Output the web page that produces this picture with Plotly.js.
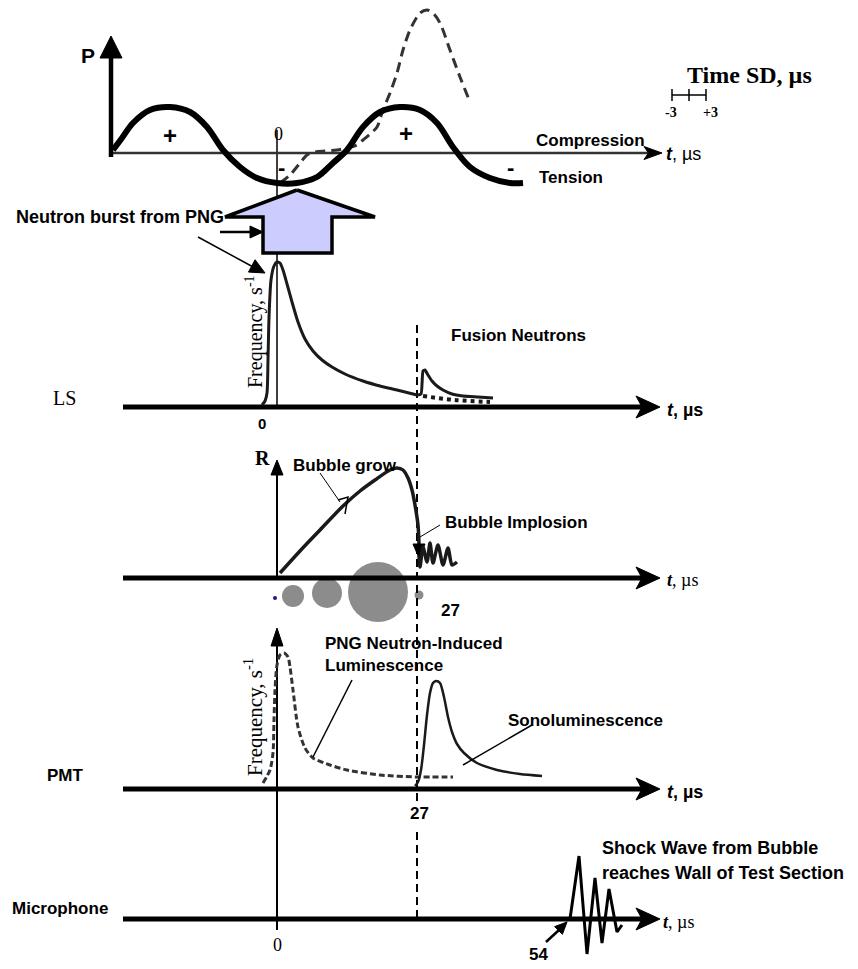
<!DOCTYPE html>
<html><head><meta charset="utf-8">
<script src="https://cdn.plot.ly/plotly-3.0.1.min.js"></script>
<style>html,body{margin:0;padding:0;background:#fff}#chart{width:858px;height:969px}</style>
</head><body><div id="chart"></div>
<script>
// ===== Data (diagram units, x to the right, y downward) =====
// Top panel: acoustic pressure (solid) and bubble pulse (dashed)
const pressureX = [113,122,133,150,170,190,207,223,240,257,277,297,317,333,347,363,380,400,420,437,453,470,490,510,523];
const pressureY = [150,138,123,110,107,112,127,150,167,178,183,183,177,163,150,127,112,107,110,123,147,167,178,183,183];
const pulseX = [280,290,300,307,315,325,337,347,357,363,370,377,383,390,397,403,410,420,427,433,440,450,460,470];
const pulseY = [183,175,163,155,152,151,150,148,145,140,134,127,110,93,73,50,30,13,10,13,23,50,77,102];
// PNG neutron burst arrow outline
const pngArrowX = [297,375,332,332,263,263,225,297];
const pngArrowY = [190,217,217,253,253,217,217,190];
// LS panel
const lsX = [262,265,267,268,269,271,274,277,280,283,287,292,298,305,313,322,332,345,363,380,397,417];
const lsY = [405,401,393,360,318,280,266,262,263,270,284,302,322,339,351,360,367,374,381,386,390,395];
const fusionX = [417,421,423,425,428,432,437,443,452,463,478,493];
const fusionY = [395,394,371,370,375,381,386,390,394,396,397,398];
const lsTailX = [423,455,490];
const lsTailY = [396,400,402];
// Bubble radius panel
const radiusX = [280,300,320,343,360,375,390,397,403,408,412,415,418,419];
const radiusY = [573,551,530,506,491,480,470,468,470,478,490,505,525,544];
const reboundX = [419,420,423,427,430,433,438,443,448,452,457];
const reboundY = [556,567,547,562,543,563,545,565,548,565,562];
const bubbleX = [275,293,327,378,419];
const bubbleY = [598,596,593,592,595];
const bubbleD = [4,22,30,60,9];
// PMT panel
const pngLumX = [263,270,273,274,275,277,280,284,288,290,293,298,305,313,330,347,380,417,453];
const pngLumY = [783,770,753,720,690,665,655,653,657,667,690,727,748,758,765,770,775,777,777];
const sonoX = [415,418,421,424,427,430,433,436,440,444,448,452,457,464,477,497,520,542];
const sonoY = [786,782,770,745,715,693,683,681,683,697,717,732,744,753,763,770,774,776];
// Microphone panel
const shockX = [566,570,579,587,595,602,609,617,622];
const shockY = [920,919,856,954,878,943,889,932,925];
// Time axes
const panelNames = ['LS','Bubble','PMT','Microphone'];
const panelAxisY = [407,578,789,919];
const axisStartX = 123;
const axisTipX = 660;

// ===== helpers =====
const traces = [];
function line(x, y, w, color, opt) {
  opt = opt || {};
  traces.push({type:'scatter', mode:'lines', x:x, y:y, hoverinfo:'skip', showlegend:false,
    line:{width:w, color:color, shape:opt.shape||'linear', smoothing:opt.smoothing||1, dash:opt.dash||'solid'},
    fill:opt.fill||'none', fillcolor:opt.fillcolor});
}
function head(tx, ty, dx, dy, len, hw, notch) {
  const n = Math.hypot(dx, dy), ux = dx/n, uy = dy/n, px = -uy, py = ux;
  const bx = tx-ux*len, by = ty-uy*len, nb = notch ? len*0.75 : len;
  const x = [tx, bx+px*hw, tx-ux*nb, bx-px*hw, tx];
  const y = [ty, by+py*hw, ty-uy*nb, by-py*hw, ty];
  traces.push({type:'scatter', mode:'lines', x:x, y:y, fill:'toself', fillcolor:'#000',
    line:{width:1, color:'#000'}, hoverinfo:'skip', showlegend:false});
}

// bubbles (behind axis)
traces.push({type:'scatter', mode:'markers', x:bubbleX, y:bubbleY, hoverinfo:'skip', showlegend:false,
  marker:{size:bubbleD, color:['#1a1a8a','#8c8c8c','#8c8c8c','#8c8c8c','#8c8c8c'], line:{width:0}, opacity:1}});

// t = 0 reference lines and t = 27 dashed line
line([277,277],[130,407],1.5,'#000');
line([277,277],[640,930],2,'#000');
head(277,628,0,-1,18,6,false);
line([277,277],[578,472],2,'#000');
head(277,460,0,-1,15,6,false);
line([417,417],[325,805],2,'#000',{dash:'8px,5px'});
line([417,417],[832,918],2,'#000',{dash:'8px,5px'});

// top panel axes
line([113,648],[153,153],2.5,'#333');
head(662,153,1,0,18,6.5,true);
line([111,111],[157,55],4.5,'#000');
head(111,36,0,-1,22,11,false);

// panel time axes
panelAxisY.forEach(function(yy){
  line([axisStartX, axisTipX-14],[yy,yy],5,'#000');
  head(axisTipX, yy, 1, 0, 24, 11, true);
});

// PNG arrow
line(pngArrowX, pngArrowY, 3.5, '#000', {fill:'toself', fillcolor:'#ccccff'});

// pressure & bubble pulse
line(pulseX, pulseY, 3, '#333', {shape:'spline', smoothing:0.8, dash:'10px,6px'});
line(pressureX, pressureY, 6, '#000', {shape:'spline', smoothing:1});

// LS
line(lsX, lsY, 3, '#1a1a1a', {shape:'spline', smoothing:0.7});
line(fusionX, fusionY, 3, '#1a1a1a', {shape:'spline', smoothing:0.5});
line(lsTailX, lsTailY, 4, '#1a1a1a', {shape:'spline', dash:'4px,4px'});

// Bubble radius
line(radiusX, radiusY, 3.5, '#1a1a1a', {shape:'spline', smoothing:0.8});
head(419,558,0,1,14,6,false);
line(reboundX, reboundY, 3.5, '#1a1a1a', {shape:'spline', smoothing:0.7});
line([338,348,345],[500,497,514],1.5,'#000');
line([320,340],[473,502],1,'#000');
line([440,420],[525,537],1,'#000');

// PMT
line(pngLumX, pngLumY, 3, '#333', {shape:'spline', smoothing:0.7, dash:'6px,3px'});
line(sonoX, sonoY, 2.5, '#1a1a1a', {shape:'spline', smoothing:0.7});
line([352,313],[680,757],1.5,'#000');
line([532,463],[725,765],1.5,'#000');

// Microphone
line(shockX, shockY, 3, '#000');

// pointer arrows
line([220,252],[232,232],2.5,'#000');
head(263,232,1,0,13,6,false);
line([198,255],[237,268],1.5,'#000');
head(265,273,67,36,15,7,false);
line([546,559],[942,930],2.5,'#000');
head(567,922,1,-1,12,5.5,false);

// error bar for time SD
line([672,706],[95,95],1.5,'#000');
line([672,672],[89,101],1.5,'#000');
line([689,689],[89,101],1.5,'#000');
line([706,706],[89,101],1.5,'#000');

// ===== text =====
const SANS = 'Liberation Sans, Arial, sans-serif';
const SERIF = 'Liberation Serif, Times New Roman, serif';
const ann = [];
function txt(x, y, t, size, fam, opt) {
  opt = opt || {};
  ann.push({xref:'x', yref:'y', x:x, y:y, text:t, showarrow:false, xanchor:opt.xa||'center', yanchor:'middle',
    textangle:opt.angle||0, font:{family:fam, size:size, color:'#000'}});
}
txt(88,55,'<b>P</b>',21,SANS);
txt(170,135,'<b>+</b>',24,SANS);
txt(406,133,'<b>+</b>',24,SANS);
txt(281,167,'<b>-</b>',22,SANS);
txt(510,167,'<b>-</b>',22,SANS);
txt(278,134,'0',18,SERIF);
txt(685,75,'<b>Time SD, µs</b>',24,SERIF,{xa:'left'});
txt(671,112,'<b>-3</b>',14,SERIF);
txt(710,112,'<b>+3</b>',14,SERIF);
txt(590,140,'<b>Compression</b>',17,SANS);
txt(571,177,'<b>Tension</b>',17,SANS);
txt(664,154,'<b><i>t</i></b>, µs',18,SANS,{xa:'left'});
txt(120,217,'<b>Neutron burst from PNG</b>',18,SANS);
txt(64,398,'LS',20,SERIF);
txt(254,332,'Frequency, s<sup>-1</sup>',20,SERIF,{angle:-90});
txt(262,423,'<b>0</b>',15,SANS);
txt(518,335,'<b>Fusion Neutrons</b>',17,SANS);
txt(665,410,'<b><i>t</i>, µs</b>',18,SANS,{xa:'left'});
txt(262,458,'<b>R</b>',20,SERIF);
txt(345,465,'<b>Bubble grow</b>',17,SANS);
txt(516,522,'<b>Bubble Implosion</b>',17,SANS);
txt(450,610,'<b>27</b>',17,SANS);
txt(665,580,'<b><i>t</i></b>, µs',18,SERIF,{xa:'left'});
txt(323,643,'<b>PNG Neutron-Induced</b>',17,SANS,{xa:'left'});
txt(323,665,'<b>Luminescence</b>',17,SANS,{xa:'left'});
txt(253,717,'Frequency, s<sup>-1</sup>',21,SERIF,{angle:-90});
txt(585,720,'<b>Sonoluminescence</b>',17,SANS);
txt(65,775,'<b>PMT</b>',17,SANS);
txt(419,813,'<b>27</b>',17,SANS);
txt(665,792,'<b><i>t</i>, µs</b>',18,SANS,{xa:'left'});
txt(600,848,'<b>Shock Wave from Bubble</b>',18,SANS,{xa:'left'});
txt(600,873,'<b>reaches Wall of Test Section</b>',18,SANS,{xa:'left'});
txt(60,908,'<b>Microphone</b>',17,SANS);
txt(277,945,'0',18,SERIF);
txt(538,954,'<b>54</b>',17,SANS);
txt(661,922,'<b><i>t</i></b>, µs',18,SERIF,{xa:'left'});

const layout = {
  width:858, height:969, margin:{l:0,r:0,t:0,b:0},
  paper_bgcolor:'#fff', plot_bgcolor:'#fff',
  xaxis:{range:[0,858], visible:false, fixedrange:true},
  yaxis:{range:[969,0], visible:false, fixedrange:true},
  annotations:ann, showlegend:false
};
Plotly.newPlot('chart', traces, layout, {staticPlot:true, displayModeBar:false});
</script></body></html>
